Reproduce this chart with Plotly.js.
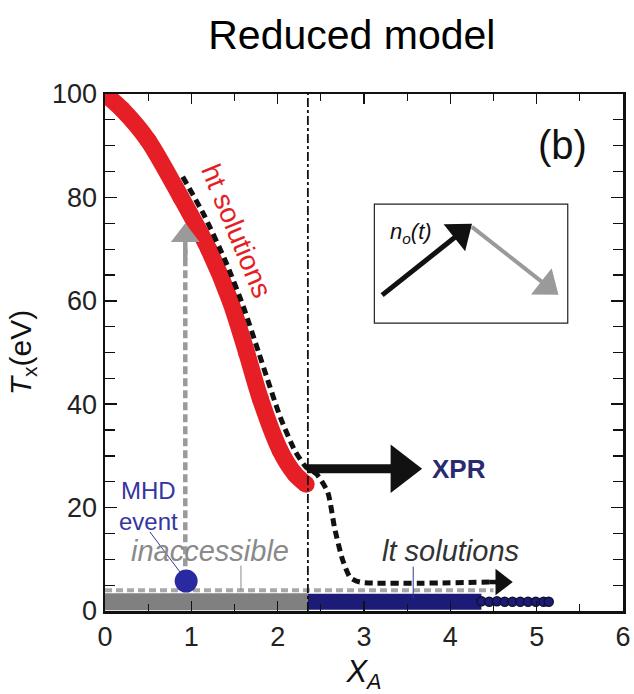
<!DOCTYPE html>
<html><head><meta charset="utf-8">
<script src="https://cdn.plot.ly/plotly-3.0.1.min.js"></script>
<style>html,body{margin:0;padding:0;background:#fff}</style>
</head><body>
<div id="chart" style="width:634px;height:694px"></div>
<script>
// ht solutions (red band)
const htX = [0, 0.2, 0.5, 0.88, 1.2, 1.45, 1.64, 1.8, 2.03, 2.2, 2.33];
const htY = [100, 97, 91, 80, 70, 60, 50, 41, 31, 26.5, 24.5];
// trajectory (black dashed)
const pathX = [0.9, 1.15, 1.4, 1.6, 1.78, 2.03, 2.2, 2.33, 2.45, 2.58, 2.66, 2.75, 2.84, 2.95, 4.45];
const pathY = [84, 76.5, 67.5, 59, 50, 37.5, 31, 27.8, 26.5, 23, 16, 10, 6.5, 5.6, 5.6];
// inaccessible (gray band) and lt solutions (navy)
const inaccX = [0, 2.35];
const inaccY = [1.8, 1.8];
const ltBandX = [2.35, 4.36];
const ltBandY = [1.8, 1.8];
const ltX = [4.36, 4.45, 4.54, 4.63, 4.72, 4.81, 4.9, 4.99, 5.08, 5.14];
const ltY = [1.9, 1.8, 1.9, 1.8, 1.8, 1.8, 1.8, 1.8, 1.8, 1.8];
// gray boundary dashed
const boundX = [0, 4.5];
const boundY = [4, 4];
const upX = [0.93, 0.93];
const upY = [4, 70];
// MHD event
const mhdX = [0.94];
const mhdY = [5.8];
const xprX = 2.35;

const FONT = 'Arial, "Liberation Sans", sans-serif';

function arrow(x, y, color, width, headSize) {
  return {x: x, y: y, mode: 'lines+markers', line: {color: color, width: width},
          marker: {symbol: 'triangle-up', angleref: 'previous', size: [0, headSize], color: color, opacity: 1, line: {width: 0}},
          hoverinfo: 'skip'};
}

const traces = [
  {x: inaccX, y: inaccY, mode: 'lines', line: {color: '#808080', width: 17}, hoverinfo: 'skip'},
  {x: ltBandX, y: ltBandY, mode: 'lines', line: {color: '#1c1c78', width: 16}, hoverinfo: 'skip'},
  {x: ltX, y: ltY, mode: 'markers', marker: {color: '#1c1c78', size: 9, line: {color: '#111133', width: 1.5}}, hoverinfo: 'skip'},
  {x: boundX, y: boundY, mode: 'lines', line: {color: '#a8a8a8', width: 4, dash: '7px,4px'}, hoverinfo: 'skip'},
  {x: upX, y: upY, mode: 'lines', line: {color: '#9a9a9a', width: 4.5, dash: '8px,4px'}, hoverinfo: 'skip'},
  {x: htX, y: htY, mode: 'lines+markers', line: {color: '#e61e25', width: 17, shape: 'spline', smoothing: 0.8},
   marker: {color: '#e61e25', size: 17}, hoverinfo: 'skip'},
  {x: pathX, y: pathY, mode: 'lines', line: {color: '#111111', width: 5, dash: '8px,5px', shape: 'spline', smoothing: 0.6}, hoverinfo: 'skip'},
  {x: mhdX, y: mhdY, mode: 'markers', marker: {color: '#2a2aa0', size: 23}, hoverinfo: 'skip'},
  // arrows (shaft + triangular head)
  arrow([xprX, 3.43], [27.5, 27.5], '#111', 9, 42),
  arrow([4.45, 4.59], [5.6, 5.6], '#111', 4.5, 23),
  arrow([0.93, 0.93], [68, 72.6], '#9a9a9a', 4.5, 25),
  arrow([3.21, 4.115], [61.1, 73.1], '#111', 5, 30),
  arrow([4.25, 5.12], [74.3, 62.9], '#9a9a9a', 4, 29)
];

const annotations = [
  {x: 3.76, y: 27.5, xref: 'x', yref: 'y', text: '<b>XPR</b>', showarrow: false, xanchor: 'left',
   font: {family: FONT, size: 26, color: '#2a2a70'}},
  {x: 3.55, y: 73.2, xref: 'x', yref: 'y', text: '<i>n</i><sub><i>o</i></sub><i>(t)</i>', showarrow: false,
   font: {family: FONT, size: 22, color: '#111'}},
  {x: 5.3, y: 90.1, xref: 'x', yref: 'y', text: '(b)', showarrow: false, font: {family: FONT, size: 40, color: '#111'}},
  {x: 1.53, y: 73.5, xref: 'x', yref: 'y', text: 'ht solutions', showarrow: false, textangle: 67.5,
   font: {family: FONT, size: 28, color: '#e61e25'}},
  {x: 1.22, y: 11.6, xref: 'x', yref: 'y', text: '<i>inaccessible</i>', showarrow: false,
   font: {family: FONT, size: 29, color: '#8a8a8a'}},
  {x: 4.0, y: 11.6, xref: 'x', yref: 'y', text: '<i>lt solutions</i>', showarrow: false,
   font: {family: FONT, size: 29, color: '#333'}},
  {x: 0.5, y: 20.3, xref: 'x', yref: 'y', text: 'MHD<br>event', showarrow: false, align: 'center',
   font: {family: FONT, size: 24, color: '#3535a0'}}
];

const shapes = [
  {type: 'line', xref: 'x', yref: 'y', x0: xprX, x1: xprX, y0: 0, y1: 100, line: {color: '#111', width: 1.8, dash: 'dashdot'}},
  {type: 'rect', xref: 'x', yref: 'y', x0: 3.12, x1: 5.36, y0: 55.7, y1: 78.7, line: {color: '#222', width: 1.2}},
  {type: 'line', xref: 'x', yref: 'y', x0: 0.52, x1: 0.87, y0: 15.3, y1: 7.5, line: {color: '#3535a0', width: 1}},
  {type: 'line', xref: 'x', yref: 'y', x0: 1.575, x1: 1.575, y0: 8.8, y1: 4, line: {color: '#8a8a8a', width: 1}},
  {type: 'line', xref: 'x', yref: 'y', x0: 3.57, x1: 3.57, y0: 8.6, y1: 2.5, line: {color: '#3535a0', width: 1}}
];

const layout = {
  width: 634, height: 694,
  margin: {l: 105, r: 11, t: 94, b: 83},
  paper_bgcolor: '#fff', plot_bgcolor: '#fff',
  showlegend: false,
  font: {family: FONT, color: '#111'},
  title: {text: 'Reduced model', x: 0.555, xanchor: 'center', y: 1 - 35/694, yanchor: 'middle', yref: 'container',
          font: {family: FONT, size: 41, color: '#000'}},
  xaxis: {range: [0, 6], dtick: 1, tick0: 0, ticks: 'inside', ticklen: 10, tickwidth: 1.5, tickcolor: '#111',
          showline: true, linewidth: 2.5, linecolor: '#111', mirror: 'allticks', showgrid: false, zeroline: false,
          minor: {dtick: 0.5, ticks: 'inside', ticklen: 7, tickwidth: 1.2, tickcolor: '#111', showgrid: false},
          tickfont: {family: FONT, size: 27, color: '#222'},
          title: {text: '<i>X</i><sub><i>A</i></sub>', font: {family: FONT, size: 31, color: '#111'}, standoff: 10}},
  yaxis: {range: [0, 100], dtick: 20, tick0: 0, ticks: 'inside', ticklen: 12, tickwidth: 1.5, tickcolor: '#111',
          showline: true, linewidth: 2.5, linecolor: '#111', mirror: 'allticks', showgrid: false, zeroline: false,
          minor: {dtick: 5, ticks: 'inside', ticklen: 10, tickwidth: 1.2, tickcolor: '#111', showgrid: false},
          tickfont: {family: FONT, size: 27, color: '#222'},
          title: {text: '<i>T</i><sub>x</sub>(eV)', font: {family: FONT, size: 30, color: '#111'}, standoff: 12}},
  annotations: annotations,
  shapes: shapes
};

Plotly.newPlot('chart', traces, layout, {displayModeBar: false, staticPlot: true});
</script>
</body></html>
